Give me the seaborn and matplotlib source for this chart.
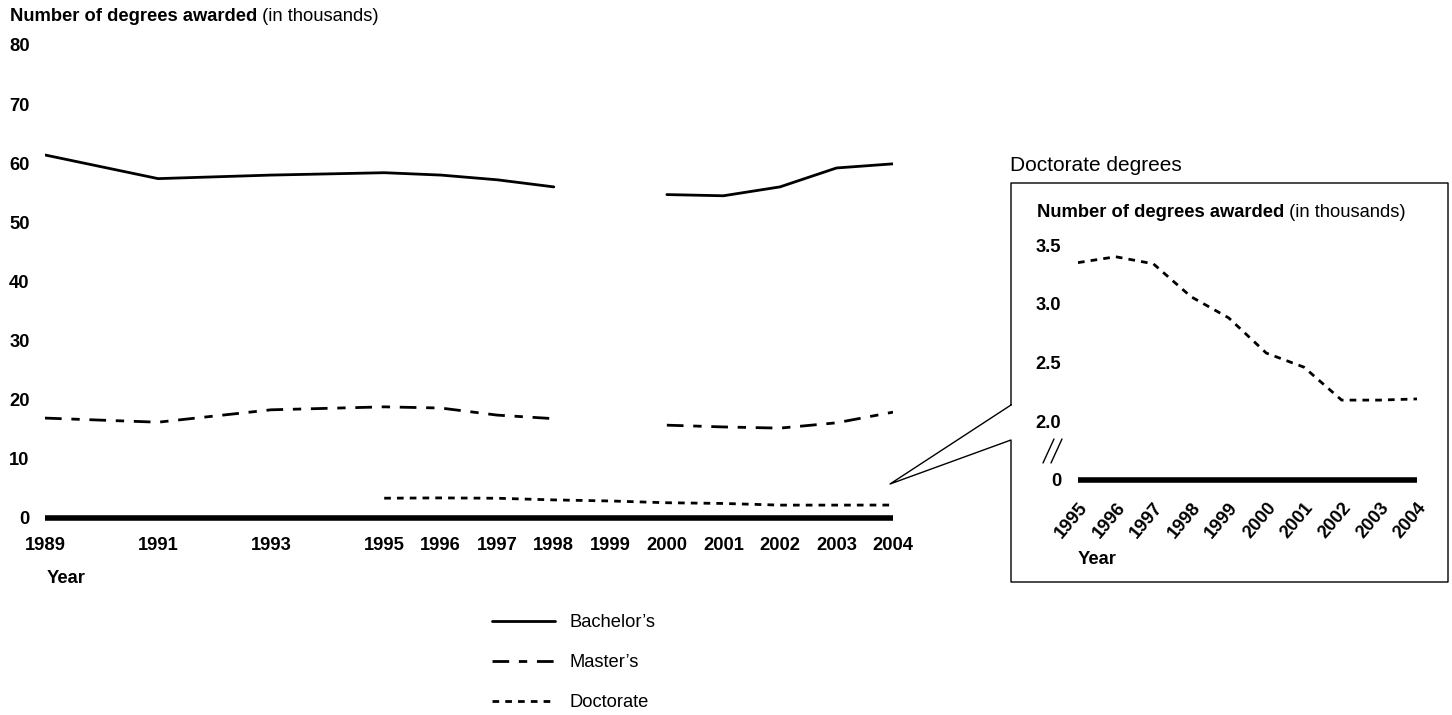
import numpy as np
import pandas as pd
import matplotlib
matplotlib.use("Agg")
import matplotlib.pyplot as plt
from matplotlib.lines import Line2D
import seaborn as sns

# values (thousands of degrees)
years_main = [1989, 1991, 1993, 1995, 1996, 1997, 1998, 2000, 2001, 2002, 2003, 2004]
bachelors = [61.4, 57.4, 58.0, 58.4, 58.0, 57.2, 56.0, 54.7, 54.5, 56.0, 59.2, 59.9]
masters = [16.9, 16.2, 18.3, 18.8, 18.6, 17.4, 16.8, 15.7, 15.4, 15.2, 16.1, 17.9]
# gap in the series between 1998 and 2000
segment = [0, 0, 0, 0, 0, 0, 0, 1, 1, 1, 1, 1]

years_doc = [1995, 1996, 1997, 1998, 1999, 2000, 2001, 2002, 2003, 2004]
doctorate = [3.35, 3.40, 3.34, 3.06, 2.88, 2.58, 2.46, 2.18, 2.18, 2.19]

main_ticks = [1989, 1991, 1993, 1995, 1996, 1997, 1998, 1999, 2000, 2001, 2002, 2003, 2004]
inset_yticks = [2.0, 2.5, 3.0, 3.5]

sns.set_style("white")
plt.rcParams['font.family'] = ['Liberation Sans', 'DejaVu Sans']
plt.rcParams['text.color'] = 'black'
plt.rcParams['xtick.color'] = 'black'
plt.rcParams['ytick.color'] = 'black'

W, H = 1452, 715
fig = plt.figure(figsize=(W / 100, H / 100), dpi=100)
fig.patch.set_facecolor("white")

def fx(px):
    return px / W

def fy(py):
    return 1 - py / H

FS = 13.2
bach_style = "-"
mast_style = (0, (6, 3.5, 3, 3.5))
doc_style = (0, (2.4, 2.2))

df_main = pd.DataFrame({"year": years_main, "bach": bachelors, "mast": masters, "seg": segment})
df_doc = pd.DataFrame({"year": years_doc, "doc": doctorate})

# ---- main chart
ax = fig.add_axes([fx(45), fy(518), fx(893) - fx(45), fy(45) - fy(518)])
sns.lineplot(data=df_main, x="year", y="bach", units="seg", estimator=None,
             color="black", lw=2, linestyle=bach_style, ax=ax)
sns.lineplot(data=df_main, x="year", y="mast", units="seg", estimator=None,
             color="black", lw=2, linestyle=mast_style, ax=ax)
sns.lineplot(data=df_doc, x="year", y="doc", estimator=None,
             color="black", lw=2, linestyle=doc_style, ax=ax)
ax.plot([1989, 2004], [0, 0], color="black", lw=4, solid_capstyle="butt", clip_on=False)

ax.set_xlim(1989, 2004)
ax.set_ylim(0, 80)
ax.set_xticks(main_ticks)
ax.set_xticklabels([str(y) for y in main_ticks], fontweight="bold", fontsize=FS)
ax.set_yticks(range(0, 81, 10))
ax.set_yticklabels([str(v) for v in range(0, 81, 10)], fontweight="bold", fontsize=FS)
ax.tick_params(axis="y", length=0, pad=11)
ax.tick_params(axis="x", length=0, pad=14)
ax.set_xlabel("")
ax.set_ylabel("")
for s in ax.spines.values():
    s.set_visible(False)
ax.patch.set_alpha(0)

t1 = fig.text(fx(10), fy(8), "Number of degrees awarded", fontweight="bold",
              fontsize=FS, va="top", ha="left")
ax.annotate(" (in thousands)", xy=(1, 0), xycoords=t1, va="bottom", ha="left", fontsize=FS)
fig.text(fx(47), fy(570), "Year", fontweight="bold", fontsize=FS, va="top", ha="left")

# ---- legend
handles = [Line2D([], [], color="black", lw=2, linestyle=bach_style),
           Line2D([], [], color="black", lw=2, linestyle=mast_style),
           Line2D([], [], color="black", lw=2, linestyle=doc_style)]
fig.legend(handles, ["Bachelor\u2019s", "Master\u2019s", "Doctorate"],
           loc="upper left", bbox_to_anchor=(fx(492), fy(614)), frameon=False,
           fontsize=FS, handlelength=3.45, handletextpad=0.8, labelspacing=1.26,
           borderpad=0, borderaxespad=0)

# ---- callout box
box = [(1011, 405), (1011, 183), (1448, 183), (1448, 582), (1011, 582),
       (1011, 440), (890, 484), (1011, 405)]
fig.add_artist(Line2D([fx(p[0]) for p in box], [fy(p[1]) for p in box],
                      color="black", lw=1, transform=fig.transFigure))
fig.text(fx(1010), fy(156), "Doctorate degrees", fontsize=15, va="top", ha="left")
t2 = fig.text(fx(1037), fy(204), "Number of degrees awarded", fontweight="bold",
              fontsize=FS, va="top", ha="left")
ax.annotate(" (in thousands)", xy=(1, 0), xycoords=t2, va="bottom", ha="left", fontsize=FS)

# ---- inset (broken y axis: the zero line sits at 1.5)
ax2 = fig.add_axes([fx(1078), fy(480), fx(1417) - fx(1078), fy(245) - fy(480)])
sns.lineplot(data=df_doc, x="year", y="doc", estimator=None,
             color="black", lw=2, linestyle=doc_style, ax=ax2)
ax2.plot([1995, 2004], [1.5, 1.5], color="black", lw=4, solid_capstyle="butt", clip_on=False)
ax2.set_xlim(1995, 2004)
ax2.set_ylim(1.5, 3.5)
ax2.set_yticks([1.5] + inset_yticks)
ax2.set_yticklabels(["0"] + [f"{v:.1f}" for v in inset_yticks], fontweight="bold", fontsize=FS)
ax2.set_xticks(years_doc)
ax2.set_xticklabels([str(y) for y in years_doc], fontweight="bold", fontsize=FS,
                    rotation=50, ha="right", va="top", rotation_mode="anchor")
ax2.tick_params(axis="y", length=0, pad=12)
ax2.tick_params(axis="x", length=0, pad=14)
ax2.set_xlabel("")
ax2.set_ylabel("")
for s in ax2.spines.values():
    s.set_visible(False)
ax2.patch.set_alpha(0)
for dx in (0, 8):
    fig.add_artist(Line2D([fx(1043 + dx), fx(1054 + dx)], [fy(463), fy(439)],
                          color="black", lw=1, transform=fig.transFigure))
fig.text(fx(1078), fy(551), "Year", fontweight="bold", fontsize=FS, va="top", ha="left")

fig.savefig("out.png", dpi=100, facecolor="white")
